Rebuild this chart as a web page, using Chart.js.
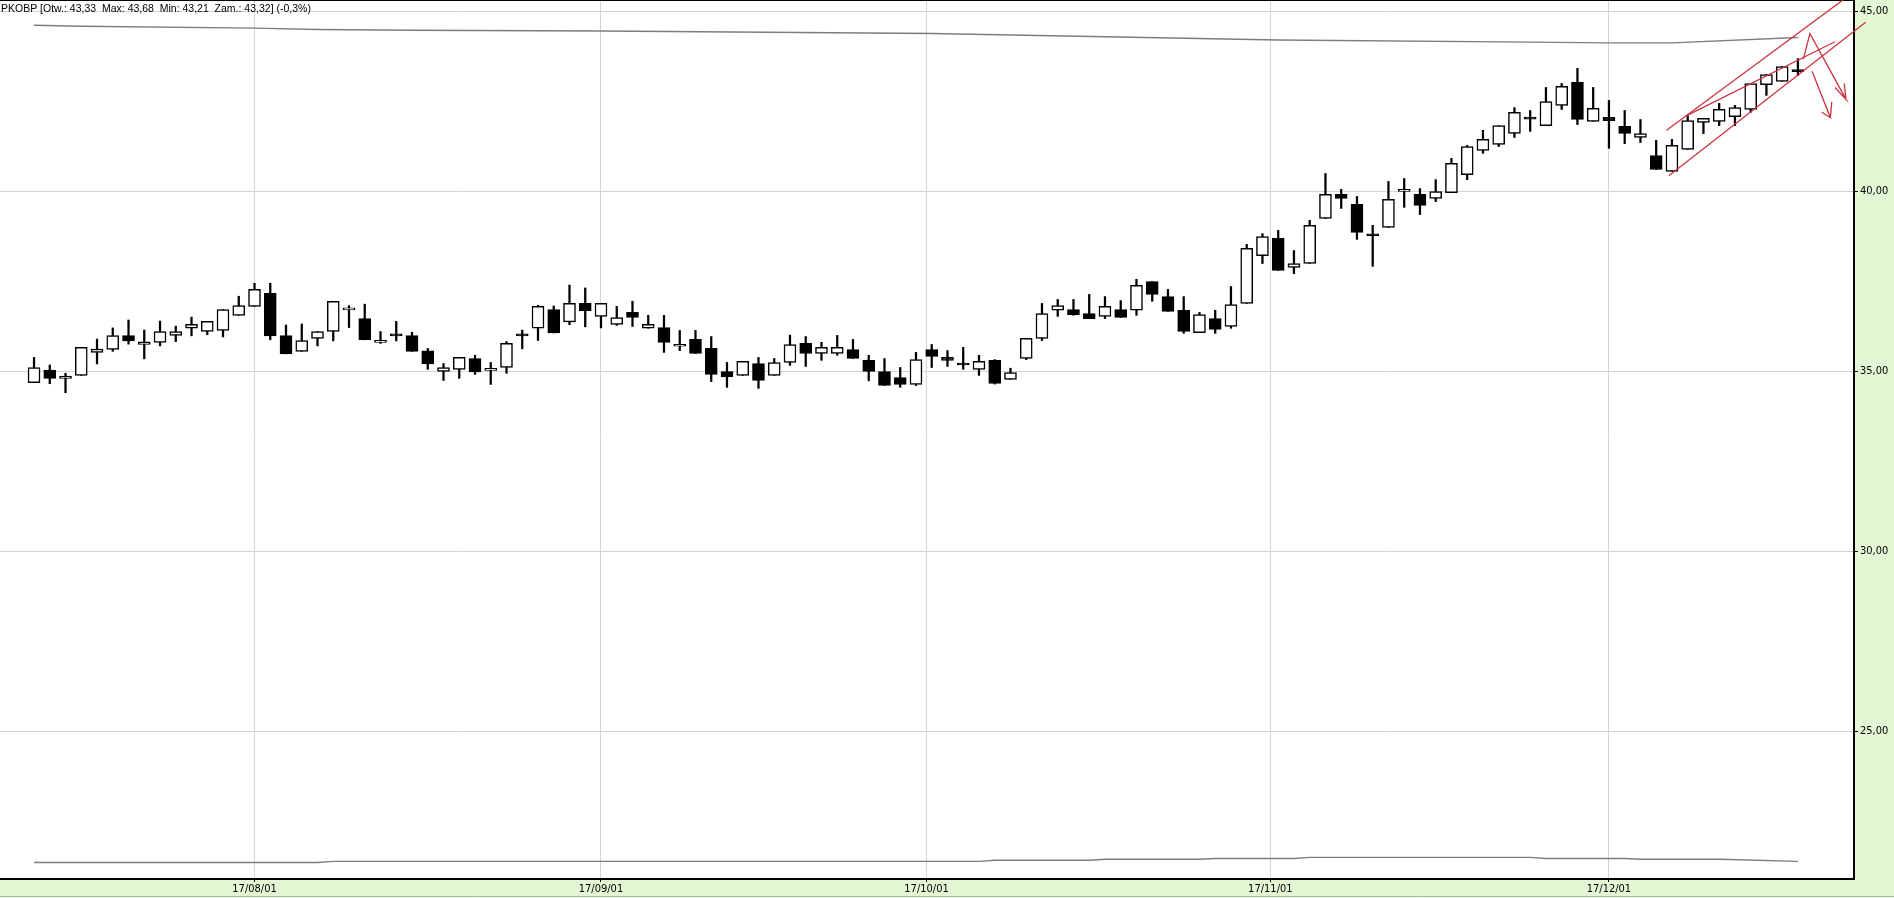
<!DOCTYPE html>
<html>
<head>
<meta charset="utf-8">
<title>PKOBP</title>
<script src="https://cdn.jsdelivr.net/npm/chart.js@4.4.1/dist/chart.umd.min.js"></script>
<style>
html, body { margin: 0; padding: 0; background: #e4f7d4; }
#wrap { width: 1894px; height: 898px; position: relative; }
</style>
</head>
<body>
<div id="wrap"><canvas id="chart"></canvas></div>
<script>
// trading days (yy/mm/dd)
var dates = [
  '17/07/12','17/07/13','17/07/14','17/07/17','17/07/18','17/07/19','17/07/20','17/07/21','17/07/24','17/07/25','17/07/26','17/07/27','17/07/28','17/07/31',
  '17/08/01','17/08/02','17/08/03','17/08/04','17/08/07','17/08/08','17/08/09','17/08/10','17/08/11','17/08/14','17/08/16','17/08/17','17/08/18','17/08/21','17/08/22','17/08/23','17/08/24','17/08/25','17/08/28','17/08/29','17/08/30','17/08/31',
  '17/09/01','17/09/04','17/09/05','17/09/06','17/09/07','17/09/08','17/09/11','17/09/12','17/09/13','17/09/14','17/09/15','17/09/18','17/09/19','17/09/20','17/09/21','17/09/22','17/09/25','17/09/26','17/09/27','17/09/28','17/09/29',
  '17/10/02','17/10/03','17/10/04','17/10/05','17/10/06','17/10/09','17/10/10','17/10/11','17/10/12','17/10/13','17/10/16','17/10/17','17/10/18','17/10/19','17/10/20','17/10/23','17/10/24','17/10/25','17/10/26','17/10/27','17/10/30','17/10/31',
  '17/11/02','17/11/03','17/11/06','17/11/07','17/11/08','17/11/09','17/11/10','17/11/13','17/11/14','17/11/15','17/11/16','17/11/17','17/11/20','17/11/21','17/11/22','17/11/23','17/11/24','17/11/27','17/11/28','17/11/29','17/11/30',
  '17/12/01','17/12/04','17/12/05','17/12/06','17/12/07','17/12/08','17/12/11','17/12/12','17/12/13','17/12/14','17/12/15','17/12/18','17/12/19'
];

var openP = [
  34.68,35.03,34.80,34.88,35.52,35.60,35.99,35.74,35.80,35.99,
  36.19,36.10,36.13,36.55,36.80,37.16,35.99,35.55,35.91,36.10,
  36.70,36.46,35.80,36.01,35.99,35.56,34.99,35.05,35.35,35.02,
  35.10,36.00,36.19,36.71,36.37,36.88,36.52,36.30,36.63,36.19,
  36.21,35.69,35.88,35.63,34.99,34.88,35.21,34.88,35.24,35.77,
  35.49,35.49,35.60,35.30,34.99,34.82,34.63,35.60,35.38,35.19,
  35.05,35.30,34.77,35.35,35.91,36.69,36.71,36.60,36.52,36.71,
  36.69,37.49,37.07,36.69,36.07,36.46,36.24,36.88,38.21,38.69,
  37.88,37.99,39.24,39.91,39.63,38.78,38.99,39.99,39.91,39.80,
  39.96,40.46,41.13,41.30,41.60,42.02,41.82,42.38,43.02,41.94,
  42.05,41.80,41.49,40.99,40.55,41.16,41.91,41.94,42.07,42.27,
  42.96,43.05,43.33
];
var highP = [
  35.38,35.17,34.94,35.66,35.89,36.20,36.42,36.14,36.39,36.25,
  36.50,36.38,36.71,37.08,37.44,37.44,36.28,36.31,36.10,36.94,
  36.82,36.86,36.10,36.38,36.08,35.63,35.21,35.38,35.44,35.24,
  35.82,36.14,36.83,36.81,37.39,37.31,36.88,36.80,36.94,36.55,
  36.55,36.13,36.13,35.96,35.24,35.27,35.38,35.35,36.00,35.96,
  35.80,35.99,35.88,35.44,35.35,35.10,35.52,35.74,35.57,35.66,
  35.44,35.32,35.08,35.91,36.88,36.99,36.99,37.13,37.07,36.96,
  37.55,37.49,37.27,37.07,36.63,36.69,37.35,38.52,38.82,38.91,
  38.35,39.19,40.49,40.05,39.85,39.05,40.27,40.35,40.07,40.32,
  40.91,41.27,41.69,41.82,42.32,42.24,42.88,42.99,43.41,42.88,
  42.52,42.24,41.99,41.41,41.44,42.10,42.02,42.44,42.38,42.99,
  43.24,43.46,43.68
];
var lowP = [
  34.68,34.65,34.40,34.88,35.20,35.55,35.75,35.34,35.70,35.82,
  35.98,36.01,35.95,36.55,36.80,35.87,35.48,35.55,35.70,35.84,
  36.21,35.87,35.77,35.84,35.55,35.05,34.74,34.80,34.91,34.63,
  34.94,35.62,35.85,36.06,36.29,36.23,36.20,36.27,36.24,36.19,
  35.52,35.57,35.49,34.71,34.55,34.88,34.52,34.88,35.16,35.13,
  35.30,35.44,35.35,34.73,34.60,34.55,34.60,35.10,35.13,35.05,
  34.88,34.64,34.77,35.32,35.85,36.52,36.55,36.46,36.46,36.49,
  36.55,36.94,36.66,36.05,36.07,36.05,36.19,36.88,37.99,37.80,
  37.71,37.99,39.24,39.52,38.66,37.91,38.99,39.55,39.35,39.71,
  39.96,40.32,41.05,41.24,41.49,41.66,41.82,42.27,41.85,41.94,
  41.19,41.32,41.35,40.60,40.55,41.16,41.60,41.82,41.82,42.19,
  42.66,43.05,43.21
];
var closeP = [
  35.10,34.80,34.86,35.66,35.61,35.99,35.84,35.81,36.10,36.10,
  36.30,36.38,36.71,36.82,37.27,35.98,35.48,35.85,36.10,36.94,
  36.72,35.87,35.85,35.98,35.55,35.20,35.10,35.38,34.98,35.07,
  35.77,35.98,36.80,36.06,36.88,36.68,36.88,36.49,36.49,36.30,
  35.80,35.74,35.49,34.91,34.84,35.27,34.74,35.24,35.74,35.49,
  35.66,35.66,35.35,34.99,34.60,34.63,35.32,35.41,35.30,35.17,
  35.27,34.66,34.96,35.91,36.60,36.82,36.57,36.46,36.80,36.49,
  37.38,37.13,36.66,36.10,36.57,36.16,36.85,38.41,38.74,37.80,
  37.99,39.05,39.91,39.80,38.85,38.76,39.77,40.05,39.60,39.99,
  40.77,41.24,41.44,41.82,42.19,42.00,42.49,42.91,41.99,42.30,
  41.96,41.60,41.60,40.60,41.27,41.96,42.02,42.27,42.32,42.99,
  43.24,43.46,43.32
];

// grey envelope lines (trading-day index -> price)
var topLineX = [0, 3, 14, 18, 24, 36, 57, 79, 95, 100, 104, 112];
var topLineY = [44.61, 44.58, 44.53, 44.49, 44.47, 44.45, 44.38, 44.20, 44.14, 44.12, 44.12, 44.27];
var bottomLineX = [0, 18, 19, 60, 61, 67, 68, 74, 75, 80, 81, 95, 96, 101, 102, 107, 112];
var bottomLineY = [21.35, 21.35, 21.38, 21.38, 21.41, 21.41, 21.44, 21.44, 21.46, 21.46, 21.49, 21.49, 21.46, 21.46, 21.44, 21.44, 21.38];

// hand drawn red lines: [index, price] pairs
var chanLow = [[103.8, 40.43], [116.3, 44.69]];
var chanHigh = [[103.66, 41.69], [114.86, 45.31]];
var chanMid = [[104.9, 42.09], [114.35, 44.15]];
var arrowA = [[112.34, 43.66], [112.76, 44.38], [115.05, 42.55], [114.35, 42.88], [115.05, 42.55], [114.94, 42.99]];
var arrowB = [[112.9, 43.33], [114.06, 42.04], [113.5, 42.20], [114.06, 42.04], [114.15, 42.48]];

// axis ticks
var monthTicks = [14, 36, 56.67, 78.5, 100];
var monthLabels = ['17/08/01', '17/09/01', '17/10/01', '17/11/01', '17/12/01'];
var priceTicks = [25, 30, 35, 40, 45];

var titleText = 'PKOBP [Otw.: 43,33  Max: 43,68  Min: 43,21  Zam.: 43,32] (-0,3%)';

var bodyData = [], wickData = [], bodyFill = [];
for (var i = 0; i < dates.length; i++) {
  bodyData.push({x: i, y: [openP[i], closeP[i]]});
  wickData.push({x: i, y: [lowP[i], highP[i]]});
  bodyFill.push(closeP[i] >= openP[i] ? '#ffffff' : '#000000');
}

function xy(xs, ys) {
  var out = [];
  for (var i = 0; i < xs.length; i++) out.push({x: xs[i], y: ys[i]});
  return out;
}
function pairs(list) {
  return list.map(function(p){ return {x: p[0], y: p[1]}; });
}
function redLine(pts) {
  return {
    type: 'line', data: pairs(pts), order: -1, clip: false,
    borderColor: 'rgb(204,51,64)', borderWidth: 1.3,
    pointRadius: 0, tension: 0, fill: false
  };
}

var narrowFont = '"Liberation Sans Narrow", "DejaVu Sans Condensed", "Arial Narrow", sans-serif';

var backdrop = {
  id: 'backdrop',
  beforeDraw: function(chart) {
    var ctx = chart.ctx, a = chart.chartArea;
    ctx.save();
    ctx.fillStyle = '#e4f7d4';
    ctx.fillRect(0, 0, chart.width, chart.height);
    ctx.fillStyle = '#ffffff';
    ctx.fillRect(a.left, a.top, a.right - a.left, a.bottom - a.top);
    ctx.strokeStyle = '#a9bca9';
    ctx.lineWidth = 1;
    ctx.beginPath();
    ctx.moveTo(0, chart.height - 1.5);
    ctx.lineTo(chart.width, chart.height - 1.5);
    ctx.stroke();
    ctx.restore();
  },
  beforeDatasetsDraw: function(chart) {
    var ctx = chart.ctx, a = chart.chartArea;
    ctx.save();
    ctx.strokeStyle = '#000';
    ctx.lineWidth = 2;
    ctx.beginPath();
    ctx.moveTo(a.left, a.top);
    ctx.lineTo(a.right, a.top);
    ctx.lineTo(a.right, a.bottom);
    ctx.lineTo(a.left, a.bottom);
    ctx.stroke();
    ctx.restore();
  },
  afterDraw: function(chart) {
    var ctx = chart.ctx;
    ctx.save();
    ctx.fillStyle = '#000';
    ctx.font = '10.5px "Liberation Sans", Arial, sans-serif';
    ctx.textBaseline = 'alphabetic';
    ctx.fillText(titleText, 1, 12);
    ctx.restore();
  }
};

function noPad(scale) {
  scale.paddingLeft = 0; scale.paddingRight = 0;
  scale.paddingTop = 0; scale.paddingBottom = 0;
}

new Chart(document.getElementById('chart'), {
  type: 'bar',
  data: {
    datasets: [
      redLine(chanLow), redLine(chanHigh), redLine(chanMid), redLine(arrowA), redLine(arrowB),
      {
        label: 'body', data: bodyData, order: 0, grouped: false,
        backgroundColor: bodyFill, borderColor: '#000', borderWidth: 1.5,
        borderSkipped: false, barThickness: 12, minBarLength: 2
      },
      {
        label: 'wick', data: wickData, order: 1, grouped: false,
        backgroundColor: '#000', borderWidth: 0, barThickness: 1.6
      },
      {
        type: 'line', data: xy(topLineX, topLineY), order: 2,
        borderColor: '#7d7d7d', borderWidth: 1.4, pointRadius: 0, tension: 0
      },
      {
        type: 'line', data: xy(bottomLineX, bottomLineY), order: 2,
        borderColor: '#7d7d7d', borderWidth: 1.4, pointRadius: 0, tension: 0
      }
    ]
  },
  options: {
    responsive: true,
    maintainAspectRatio: false,
    animation: false,
    layout: { padding: 0 },
    plugins: { legend: { display: false }, tooltip: { enabled: false } },
    scales: {
      x: {
        type: 'linear', min: -2.16, max: 115.56, offset: false,
        grid: { offset: false, color: '#d4d4d4', lineWidth: 1, tickLength: 3, tickColor: '#000' },
        border: { display: false },
        afterBuildTicks: function(scale) {
          scale.ticks = monthTicks.map(function(v){ return {value: v}; });
        },
        afterFit: function(scale) { scale.height = 19; noPad(scale); },
        ticks: {
          autoSkip: false, maxRotation: 0, padding: 1, color: '#000',
          font: { family: narrowFont, size: 11 },
          callback: function(value, index) { return monthLabels[index]; }
        }
      },
      y: {
        type: 'linear', position: 'right', min: 20.89, max: 45.31, beginAtZero: false,
        grid: { color: '#d4d4d4', lineWidth: 1, tickLength: 4, tickColor: '#000' },
        border: { display: false },
        afterBuildTicks: function(scale) {
          scale.ticks = priceTicks.map(function(v){ return {value: v}; });
        },
        afterFit: function(scale) { scale.width = 40; noPad(scale); },
        ticks: {
          padding: 2, color: '#000',
          font: { family: narrowFont, size: 11 },
          callback: function(value) { return value.toFixed(2).replace('.', ','); }
        }
      }
    }
  },
  plugins: [backdrop]
});
</script>
</body>
</html>
